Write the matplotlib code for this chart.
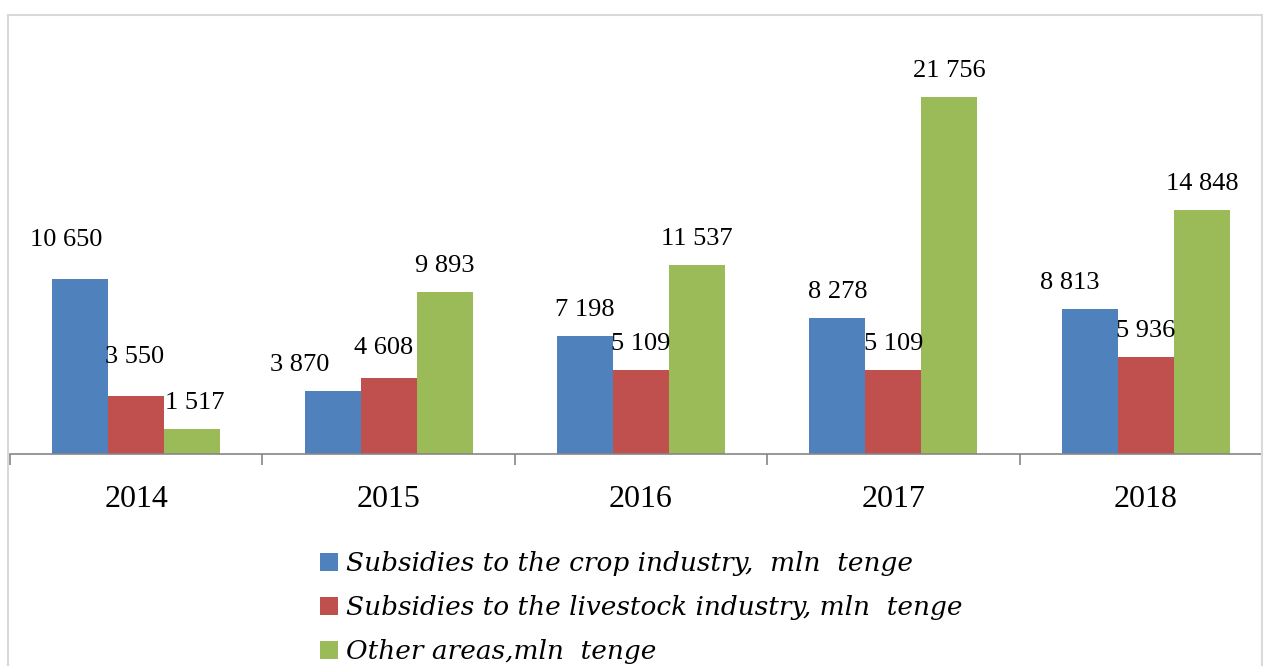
import matplotlib.pyplot as plt
import numpy as np
from matplotlib.patches import Rectangle
from matplotlib.ticker import FixedLocator

years = ["2014", "2015", "2016", "2017", "2018"]
crop = [10650, 3870, 7198, 8278, 8813]
livestock = [3550, 4608, 5109, 5109, 5936]
other = [1517, 9893, 11537, 21756, 14848]

series_names = [
    "Subsidies to the crop industry,  mln  tenge",
    "Subsidies to the livestock industry, mln  tenge",
    "Other areas,mln  tenge",
]
colors = ["#4F81BD", "#C0504D", "#9BBB59"]

# label nudges in pixels (dx, dy), where the original placed labels a bit off
label_nudge = {(0, 0): (-14, 13), (1, 0): (-2, 13), (0, 1): (-33, 0),
               (0, 4): (-20, 0), (2, 0): (3, 0), (1, 1): (-5, 4)}

W, H = 1263, 666
fig = plt.figure(figsize=(W / 100, H / 100), dpi=100)

# axes in pixel terms: x from 10 to 1272, baseline at y=454, top at 44
ax = fig.add_axes([10 / W, (H - 454) / H, 1262 / W, 410 / H])

x = np.arange(len(years))
bw = 0.222
values = [crop, livestock, other]
for i, (vals, name, c) in enumerate(zip(values, series_names, colors)):
    bars = ax.bar(x + (i - 1) * bw, vals, bw, color=c, label=name, zorder=2)
    for j, (b, v) in enumerate(zip(bars, vals)):
        dx, dy = label_nudge.get((i, j), (0, 0))
        ax.annotate(f"{v:,}".replace(",", " "),
                    (b.get_x() + b.get_width() / 2, v),
                    xytext=(dx * 0.72, (26 + dy) * 0.72),
                    textcoords="offset points", ha="center", va="center",
                    fontsize=19, family="Liberation Serif", color="black")

ax.set_xlim(-0.5, len(years) - 0.5)
ax.set_ylim(0, 25000)

for s in ["top", "right", "left"]:
    ax.spines[s].set_visible(False)
ax.spines["bottom"].set_color("#868686")
ax.spines["bottom"].set_linewidth(1.2)
ax.set_yticks([])

ax.set_xticks(x)
ax.set_xticklabels(years, fontsize=23, family="Liberation Serif")
ax.tick_params(axis="x", which="major", length=0, pad=22)
ax.xaxis.set_minor_locator(FixedLocator(np.arange(len(years) + 1) - 0.5))
ax.tick_params(axis="x", which="minor", length=8, width=1.2, color="#868686",
               direction="out")

# outer chart frame
fig.patches.append(Rectangle((8 / W, -0.1), (1262 - 8) / W, 1.1 - 15 / H,
                             transform=fig.transFigure, fill=False,
                             edgecolor="#d9d9d9", linewidth=1.5))

handles, labels = ax.get_legend_handles_labels()
fig.legend(handles, labels, loc="upper left",
           bbox_to_anchor=(320 / W, 1 - 551 / H), frameon=False,
           prop={"family": "DejaVu Serif", "style": "italic", "size": 19},
           handlelength=0.7, handleheight=0.7, handletextpad=0.3,
           labelspacing=0.72, borderpad=0, borderaxespad=0)

fig.savefig("out.png", dpi=100)
